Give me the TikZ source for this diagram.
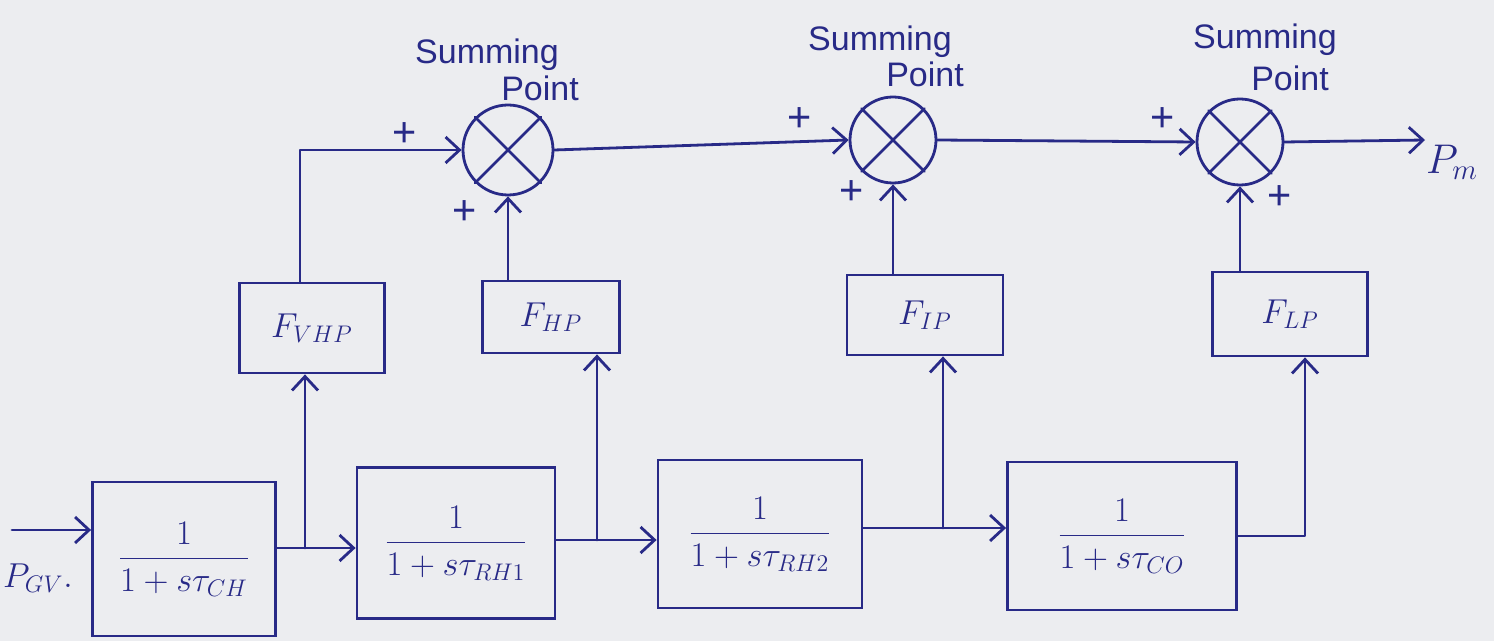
\documentclass[tikz,border=0pt]{standalone}
\usepackage{amsmath}
\usepackage{fontspec}
\setmainfont{Liberation Sans}
\usetikzlibrary{arrows.meta}
\definecolor{ink}{RGB}{40,42,135}
\definecolor{paper}{RGB}{236,237,240}
\tikzset{
  wire/.style={ink, line width=1.4pt, line cap=round, line join=round},
  flow/.style={wire, -{Straight Barb[length=7pt,width=13pt,line width=1.4pt]}},
  block/.style={draw=ink, line width=1.4pt, rectangle, inner sep=0pt, text=ink, font=\LARGE},
  summer/.style={draw=ink, line width=1.4pt, circle, inner sep=0pt},
  sign/.style={text=ink, font=\huge, inner sep=0pt},
  note/.style={text=ink, font=\fontsize{17}{20}\selectfont, inner sep=0pt},
}
\begin{document}
\begin{tikzpicture}[x=0.5pt,y=-0.5pt]
\fill[paper] (0,0) rectangle (1494,641);
\useasboundingbox (0,0) rectangle (1494,641);

% forward path: turbine and reheater lags
\node[block, minimum width=91.5pt, minimum height=77pt] (ch)  at (184,559) {$\dfrac{1}{1+s\tau_{CH}}$};
\node[block, minimum width=99pt,   minimum height=75.5pt] (rh1) at (456,543) {$\dfrac{1}{1+s\tau_{RH1}}$};
\node[block, minimum width=102pt,  minimum height=74pt] (rh2) at (760,534) {$\dfrac{1}{1+s\tau_{RH2}}$};
\node[block, minimum width=114.5pt,minimum height=74pt] (co)  at (1122,536) {$\dfrac{1}{1+s\tau_{CO}}$};

% power fractions
\node[block, minimum width=72.5pt, minimum height=45pt] (fvhp) at (312,328) {$F_{VHP}$};
\node[block, minimum width=68.5pt, minimum height=36pt] (fhp)  at (551,317) {$F_{HP}$};
\node[block, minimum width=78pt,   minimum height=40pt] (fip)  at (925,315) {$F_{IP}$};
\node[block, minimum width=77.5pt, minimum height=42pt] (flp)  at (1290,314) {$F_{LP}$};

% summing junctions
\node[summer, minimum size=45pt] (s1) at (508,150) {};
\node[summer, minimum size=43pt] (s2) at (893,140) {};
\node[summer, minimum size=43pt] (s3) at (1240,142) {};
\foreach \s in {s1,s2,s3}{
  \draw[wire] (\s.north west) -- (\s.south east) (\s.north east) -- (\s.south west);
}

% captions of the junctions
\node[note] (c1a) at (487,55) {Summing};
\node[note] (c1b) at (540,88) {Point};
\node[note] (c2a) at (880,42) {Summing};
\node[note] (c2b) at (925,74) {Point};
\node[note] (c3a) at (1265,40) {Summing};
\node[note] (c3b) at (1290,78) {Point};

% input and output
\coordinate (pgv) at (12,530);
\node[text=ink, font=\LARGE, inner sep=0pt] (lgv) at (38,578) {$P_{GV}.$};
\draw[flow] (pgv) -- (pgv -| ch.west);
\coordinate (pm) at (1425,140);
\node[text=ink, font=\huge, inner sep=0pt] (lpm) at (1452,162) {$P_m$};
\draw[flow] (s3.east) -- (pm);

% branch points on the forward path
\coordinate (b1) at (305,548);
\coordinate (b2) at (597,540);
\coordinate (b3) at (943,528);
\coordinate (b4) at (1305,0);
\coordinate (xv) at (300,0);

\draw[wire] (b1 -| ch.east) -- (b1);
\draw[flow] (b1) -- (b1 -| rh1.west);
\draw[flow] (b1) -- (b1 |- fvhp.south);

\draw[wire] (b2 -| rh1.east) -- (b2);
\draw[flow] (b2) -- (b2 -| rh2.west);
\draw[flow] (b2) -- (b2 |- fhp.south);

\draw[wire] (b3 -| rh2.east) -- (b3);
\draw[flow] (b3) -- (b3 -| co.west);
\draw[flow] (b3) -- (b3 |- fip.south);

\draw[flow] (co.east) -- (co.east -| b4) -- (b4 |- flp.south);

% fractions into the junctions
\draw[flow] (fvhp.north -| xv) -- (s1.west -| xv) -- (s1.west);
\draw[flow] (s1.south |- fhp.north) -- (s1.south);
\draw[flow] (s2.south |- fip.north) -- (s2.south);
\draw[flow] (s3.south |- flp.north) -- (s3.south);
\draw[flow] (s1.east) -- (s2.west);
\draw[flow] (s2.east) -- (s3.west);

% signs
\node[sign] (p1) at (405,135) {+};
\node[sign] (p2) at (465,213) {+};
\node[sign] (p3) at (800,120) {+};
\node[sign] (p4) at (852,193) {+};
\node[sign] (p5) at (1163,120) {+};
\node[sign] (p6) at (1280,198) {+};
\end{tikzpicture}
\end{document}
